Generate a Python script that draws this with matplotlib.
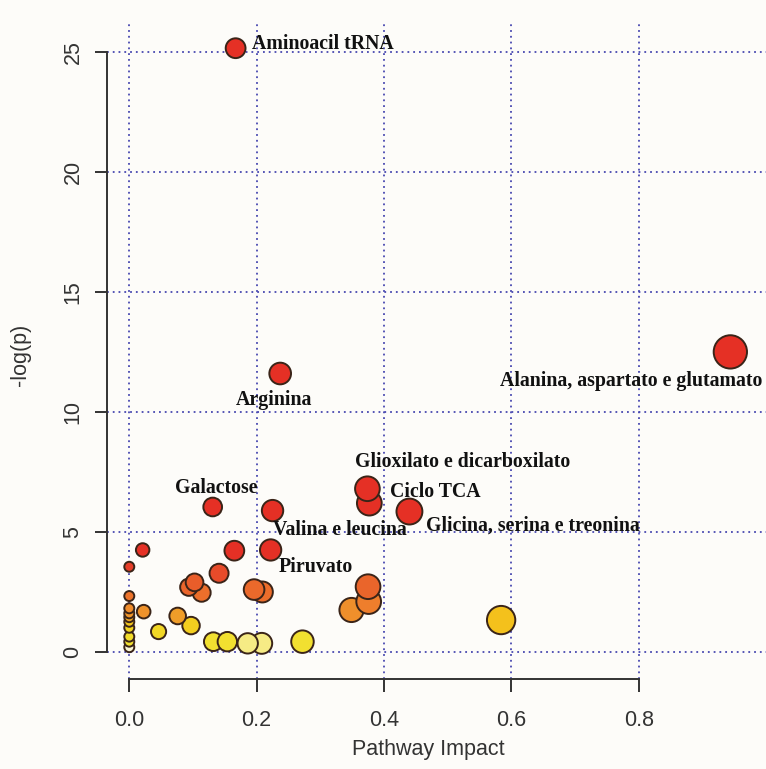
import numpy as np
import matplotlib
matplotlib.use("Agg")
import matplotlib.pyplot as plt
from matplotlib.colors import LinearSegmentedColormap, Normalize

# pathway impact (x) and -log(p) (y)
impact = [0.167, 0.944, 0.237, 0.374, 0.377, 0.440, 0.131, 0.225, 0.222,
          0.021, 0.165, 0.000, 0.141, 0.1025, 0.0935, 0.1136, 0.196, 0.209,
          0.000, 0.375, 0.376, 0.349, 0.0226, 0.000, 0.000, 0.000, 0.000,
          0.000, 0.000, 0.000, 0.000, 0.076, 0.097, 0.584, 0.046, 0.132,
          0.154, 0.186, 0.208, 0.272]
neglogp = [25.15, 12.5, 11.6, 6.8, 6.2, 5.85, 6.04, 5.89, 4.25,
           4.25, 4.22, 3.55, 3.28, 2.9, 2.7, 2.47, 2.6, 2.5,
           2.33, 2.72, 2.1, 1.75, 1.68, 1.82, 1.61, 1.45, 1.26,
           1.01, 0.64, 0.43, 0.2, 1.5, 1.1, 1.33, 0.85, 0.43,
           0.43, 0.36, 0.36, 0.43]

labels = ["Aminoacil tRNA", "Alanina, aspartato e glutamato", "Arginina",
          "Glioxilato e dicarboxilato", "Ciclo TCA", "Glicina, serina e treonina",
          "Galactose", "Valina e leucina", "Piruvato"]
# label offsets (points) from their marker, text is left aligned
label_offsets = [(12, 3), (-166, -21), (-32, -19), (-9, 19), (15, 8),
                 (12, -10), (-27, 14), (0, -14), (6, -12)]

x = np.array(impact)
y = np.array(neglogp)

heat = LinearSegmentedColormap.from_list("heat", [
    (0.00, "#ffffff"), (0.07, "#f8f2c0"), (0.10, "#f2e030"),
    (0.24, "#f2d420"), (0.32, "#f4c01c"), (0.36, "#ef9a2a"),
    (0.52, "#ee7a2c"), (0.71, "#e85a2a"), (0.83, "#e6402a"),
    (1.00, "#e53025")])
colors = heat(Normalize(0, 4.2, clip=True)(y))

# marker radius in pixels grows with impact
radius_px = 5 + 12 * np.sqrt(x)
sizes = (2 * radius_px * 0.72) ** 2

fig = plt.figure(figsize=(7.66, 7.69), dpi=100, facecolor="#fdfcf9")
ax = fig.add_axes([107 / 766, 90 / 769, 1 - 107 / 766, 1 - 23 / 769 - 90 / 769])
ax.set_facecolor("#fdfcf9")

order = np.argsort(-y)[::-1]
ax.scatter(x[order], y[order], s=sizes[order], c=colors[order],
           edgecolors="#3a2418", linewidths=1.4, zorder=3)

for i, name in enumerate(labels):
    ax.annotate(name, (x[i], y[i]), xytext=label_offsets[i],
                textcoords="offset points", ha="left", va="center",
                fontsize=14.3, fontweight="bold", family="Liberation Serif",
                color="#111111", zorder=4)

ax.set_xlim(-0.035, 1.0)
ax.set_ylim(-1.125, 26.2)
ax.set_xticks([0.0, 0.2, 0.4, 0.6, 0.8])
ax.set_yticks([0, 5, 10, 15, 20, 25])
ax.grid(True, color="#4848b0", linestyle=(0, (1, 2.2)), linewidth=1.3)
ax.set_axisbelow(True)

for side in ["top", "right"]:
    ax.spines[side].set_visible(False)
ax.spines["left"].set_bounds(0, 25)
ax.spines["bottom"].set_bounds(0, 0.8)
for side in ["left", "bottom"]:
    ax.spines[side].set_color("#333333")
    ax.spines[side].set_linewidth(1.4)

ax.tick_params(axis="both", length=9, width=1.4, color="#333333",
               labelsize=15.5, labelcolor="#333333",
               labelfontfamily="Liberation Sans")
ax.tick_params(axis="x", pad=13)
ax.tick_params(axis="y", pad=8)
for lab in ax.get_yticklabels():
    lab.set_rotation(90)
    lab.set_va("center")
ax.set_xticklabels(["0.0", "0.2", "0.4", "0.6", "0.8"])

fig.text(428 / 766, 1 - 750 / 769, "Pathway Impact", ha="center",
         va="center", fontsize=15.5, color="#333333", family="Liberation Sans")
fig.text(21 / 766, 1 - 355 / 769, "-log(p)", ha="center", va="center",
         rotation=90, fontsize=15.5, color="#333333", family="Liberation Sans")

fig.savefig("out.png", dpi=100, facecolor=fig.get_facecolor())
